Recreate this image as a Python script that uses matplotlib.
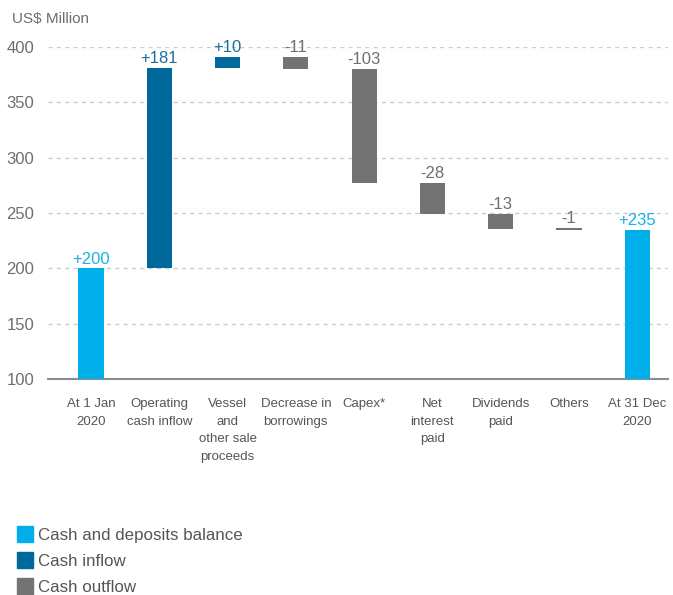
import matplotlib.pyplot as plt
from matplotlib.patches import Patch

plt.rcParams['font.family'] = ['Liberation Sans', 'DejaVu Sans']

# cash flow bridge, US$ million
categories = ["At 1 Jan\n2020", "Operating\ncash inflow", "Vessel\nand\nother sale\nproceeds",
              "Decrease in\nborrowings", "Capex*", "Net\ninterest\npaid", "Dividends\npaid",
              "Others", "At 31 Dec\n2020"]
changes = [200, 181, 10, -11, -103, -28, -13, -1, 235]
kinds = ["balance", "inflow", "inflow", "outflow", "outflow", "outflow", "outflow", "outflow", "balance"]

colors = {"balance": "#00AEEA", "inflow": "#00699C", "outflow": "#737373"}
label_colors = {"balance": "#1AB0E8", "inflow": "#1A6FA0", "outflow": "#6E6E6E"}

fig = plt.figure(figsize=(6.73, 5.95), dpi=100)
ax = fig.add_axes([0.0713, 0.363, 0.9213, 0.558])

running = 0
for i, (val, kind) in enumerate(zip(changes, kinds)):
    if kind == "balance":
        bottom, top = 0, val
        running = val
    else:
        start = running
        running = running + val
        bottom, top = min(start, running), max(start, running)
    h = max(top - bottom, 1.5)
    ax.bar(i, h, bottom=bottom, width=0.37, color=colors[kind], zorder=3)
    txt = f"+{val}" if val > 0 else f"-{abs(val)}"
    ax.text(i, bottom + h + 1.5, txt, ha="center", va="bottom", fontsize=12,
            color=label_colors[kind], clip_on=False, zorder=4)

ax.set_ylim(100, 400)
ax.set_xlim(-0.63, 8.45)
ax.set_yticks(range(100, 401, 50))
ax.yaxis.grid(True, linestyle=(0, (3, 3)), color="#CCCCCC", linewidth=1)
ax.set_axisbelow(True)
for s in ["top", "right", "left"]:
    ax.spines[s].set_visible(False)
ax.spines["bottom"].set_color("#8C8C8C")
ax.spines["bottom"].set_linewidth(1.5)
ax.tick_params(axis="y", length=0, labelsize=12, labelcolor="#6E6E6E", pad=10)
ax.tick_params(axis="x", length=0, pad=14)
ax.set_xticks(range(len(categories)))
ax.set_xticklabels(categories, fontsize=9.5, color="#555555", linespacing=1.6)

fig.text(0.018, 0.968, "US$ Million", fontsize=11, color="#6E6E6E", ha="left", va="center")

handles = [Patch(color=colors["balance"], label="Cash and deposits balance"),
           Patch(color=colors["inflow"], label="Cash inflow"),
           Patch(color=colors["outflow"], label="Cash outflow")]
fig.legend(handles=handles, loc="lower left", bbox_to_anchor=(0.003, -0.026), frameon=False,
           fontsize=12.2, labelcolor="#555555", handlelength=0.9, handleheight=1.1,
           handletextpad=0.35, labelspacing=0.55)

fig.savefig("out.png", dpi=100)
